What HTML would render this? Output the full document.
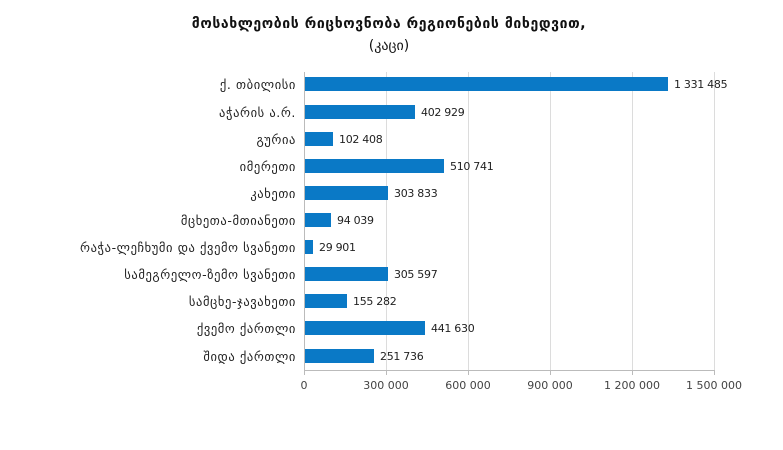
<!DOCTYPE html><html><head><meta charset="utf-8"><style>body{margin:0;background:#fff}svg{display:block}text{font-family:"DejaVu Sans","Liberation Sans",sans-serif}</style></head><body>
<svg width="783" height="450" xmlns="http://www.w3.org/2000/svg">
<text x="389" y="28" text-anchor="middle" font-size="14" font-weight="bold" fill="#111" letter-spacing="0.6">მოსახლეობის რიცხოვნობა რეგიონების მიხედვით,</text>
<text x="389" y="50" text-anchor="middle" font-size="14" fill="#111">(კაცი)</text>
<g stroke="#dcdcdc" stroke-width="1">
<line x1="386.5" y1="72" x2="386.5" y2="370"/><line x1="468.5" y1="72" x2="468.5" y2="370"/><line x1="550.5" y1="72" x2="550.5" y2="370"/><line x1="632.5" y1="72" x2="632.5" y2="370"/><line x1="714.5" y1="72" x2="714.5" y2="370"/>
</g>
<line x1="304.5" y1="72" x2="304.5" y2="375" stroke="#bbb"/>
<line x1="304" y1="370.5" x2="715" y2="370.5" stroke="#bbb"/>
<g stroke="#bbb"><line x1="386.5" y1="370" x2="386.5" y2="375"/><line x1="468.5" y1="370" x2="468.5" y2="375"/><line x1="550.5" y1="370" x2="550.5" y2="375"/><line x1="632.5" y1="370" x2="632.5" y2="375"/><line x1="714.5" y1="370" x2="714.5" y2="375"/></g>
<g font-size="11" fill="#444" text-anchor="middle">
<text x="304" y="389">0</text><text x="386" y="389">300 000</text><text x="468" y="389">600 000</text><text x="550" y="389">900 000</text><text x="632" y="389">1 200 000</text><text x="714" y="389">1 500 000</text>
</g>
<g fill="#0a79c6">
<rect x="305" y="77" width="363" height="14"/>
<rect x="305" y="105" width="110" height="14"/>
<rect x="305" y="132" width="28" height="14"/>
<rect x="305" y="159" width="139" height="14"/>
<rect x="305" y="186" width="83" height="14"/>
<rect x="305" y="213" width="26" height="14"/>
<rect x="305" y="240" width="8" height="14"/>
<rect x="305" y="267" width="83" height="14"/>
<rect x="305" y="294" width="42" height="14"/>
<rect x="305" y="321" width="120" height="14"/>
<rect x="305" y="349" width="69" height="14"/>
</g>
<g font-size="11" fill="#222" letter-spacing="-0.3">
<text x="674" y="88">1 331 485</text>
<text x="421" y="116">402 929</text>
<text x="339" y="143">102 408</text>
<text x="450" y="170">510 741</text>
<text x="394" y="197">303 833</text>
<text x="337" y="224">94 039</text>
<text x="319" y="251">29 901</text>
<text x="394" y="278">305 597</text>
<text x="353" y="305">155 282</text>
<text x="431" y="332">441 630</text>
<text x="380" y="360">251 736</text>
</g>
<g font-size="12.5" fill="#222" text-anchor="end" letter-spacing="0.6">
<text x="296" y="89">ქ. თბილისი</text>
<text x="296" y="117">აჭარის ა.რ.</text>
<text x="296" y="144">გურია</text>
<text x="296" y="171">იმერეთი</text>
<text x="296" y="198">კახეთი</text>
<text x="296" y="225">მცხეთა-მთიანეთი</text>
<text x="296" y="252">რაჭა-ლეჩხუმი და ქვემო სვანეთი</text>
<text x="296" y="279">სამეგრელო-ზემო სვანეთი</text>
<text x="296" y="306">სამცხე-ჯავახეთი</text>
<text x="296" y="333">ქვემო ქართლი</text>
<text x="296" y="361">შიდა ქართლი</text>
</g>
</svg></body></html>
